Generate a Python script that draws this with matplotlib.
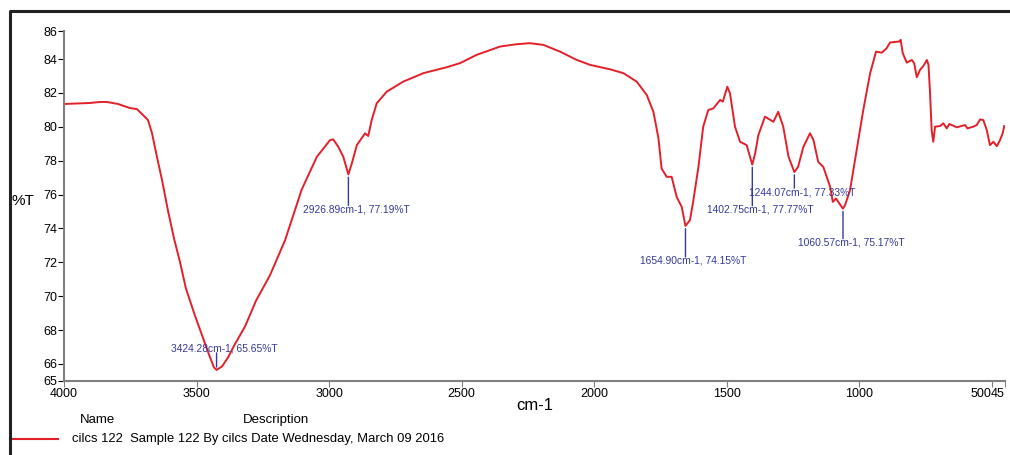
import matplotlib
matplotlib.use("Agg")
import matplotlib.pyplot as plt
from matplotlib.lines import Line2D

plt.rcParams["font.family"] = ["Liberation Sans", "DejaVu Sans"]

# spectrum (wavenumber cm-1, %T)
wavenumber = [
    4000, 3902, 3864, 3838, 3796, 3751, 3725, 3702, 3683, 3668, 3649, 3630,
    3608, 3585, 3562, 3540, 3506, 3479, 3453, 3434, 3424, 3404, 3381, 3358,
    3317, 3275, 3223, 3166, 3103, 3046, 2996, 2984, 2965, 2946, 2927, 2914,
    2895, 2864, 2852, 2839, 2820, 2782, 2720, 2644, 2556, 2506, 2443, 2355,
    2292, 2242, 2191, 2128, 2065, 2015, 1940, 1889, 1839, 1801, 1776, 1757,
    1745, 1726, 1707, 1701, 1688, 1669, 1655, 1638, 1625, 1606, 1588, 1569,
    1550, 1524, 1514, 1497, 1487, 1468, 1449, 1424, 1403, 1392, 1380, 1355,
    1323, 1305, 1286, 1266, 1244, 1230, 1210, 1185, 1172, 1154, 1135, 1109,
    1099, 1087, 1061, 1053, 1034, 1009, 984, 958, 936, 914, 896, 883, 848,
    843, 835, 820, 801, 792, 782, 770, 757, 744, 738, 732, 726, 720, 713,
    694, 682, 669, 659, 631, 600, 591, 569, 556, 543, 531, 518, 506, 493,
    480, 468, 458, 452,
]
transmittance = [
    81.35, 81.41, 81.47, 81.47, 81.35, 81.11, 81.05, 80.70, 80.40, 79.63,
    78.21, 76.85, 75.08, 73.42, 72.00, 70.46, 68.86, 67.68, 66.56, 65.79,
    65.65, 65.85, 66.38, 67.09, 68.21, 69.75, 71.23, 73.30, 76.30, 78.23,
    79.22, 79.26, 78.82, 78.23, 77.19, 77.84, 78.92, 79.62, 79.46, 80.40,
    81.39, 82.08, 82.67, 83.17, 83.52, 83.76, 84.25, 84.74, 84.88, 84.94,
    84.84, 84.44, 83.95, 83.66, 83.40, 83.17, 82.67, 81.88, 80.89, 79.34,
    77.54, 77.05, 77.05, 76.66, 75.86, 75.27, 74.15, 74.49, 75.67, 77.64,
    80.01, 80.99, 81.09, 81.59, 81.49, 82.37, 81.98, 80.01, 79.12, 78.92,
    77.77, 78.43, 79.51, 80.60, 80.30, 80.89, 80.01, 78.23, 77.33, 77.64,
    78.82, 79.62, 79.22, 77.93, 77.64, 76.46, 75.57, 75.77, 75.17, 75.37,
    76.26, 78.63, 81.00, 83.17, 84.44, 84.38, 84.64, 84.98, 85.04, 85.14,
    84.35, 83.79, 83.95, 83.76, 82.93, 83.36, 83.60, 83.95, 83.66, 81.98,
    79.81, 79.12, 80.01, 80.05, 80.21, 79.91, 80.17, 79.97, 80.11, 79.91,
    80.01, 80.11, 80.44, 80.40, 79.81, 78.92, 79.12, 78.86, 79.22, 79.62,
    80.05,
]

# labelled peaks
peak_wn = [3424.28, 2926.89, 1654.90, 1402.75, 1244.07, 1060.57]
peak_T = [65.65, 77.19, 74.15, 77.77, 77.33, 75.17]
peak_line_px = [17, -31, -31, -41, -16, -30]  # tick length, + = above

x_ticks = [4000, 3500, 3000, 2500, 2000, 1500, 1000, 500, 450]
x_labels = ["4000", "3500", "3000", "2500", "2000", "1500", "1000", "500", "45"]
y_top = 85.66
y_ticks = [65, 66, 68, 70, 72, 74, 76, 78, 80, 82, 84, y_top]
y_labels = ["65", "66", "68", "70", "72", "74", "76", "78", "80", "82", "84", "86"]

RED = "#e3202a"
NAVY = "#34399a"
GRAY = "#808080"

fig = plt.figure(figsize=(10.1, 4.55), dpi=100)
ax = fig.add_axes([64 / 1010, 1 - 380.9 / 455, 940.8 / 1010, 349.9 / 455])

ax.plot(wavenumber, transmittance, color=RED, linewidth=1.4)
ax.set_xlim(4000, 450)
ax.set_ylim(65, y_top)

ax.set_xticks(x_ticks)
ax.set_xticklabels(x_labels)
ax.set_yticks(y_ticks)
ax.set_yticklabels(y_labels)
ax.tick_params(axis="both", labelsize=9, length=4, width=0.8, pad=1)
ax.tick_params(axis="x", color=GRAY)
# the last two labels sit crowded against the right edge, as in the printout
for lab in ax.get_xticklabels()[-2:]:
    lab.set_horizontalalignment("right")

for side in ["top", "right"]:
    ax.spines[side].set_visible(False)
for side in ["left", "bottom"]:
    ax.spines[side].set_color(GRAY)
    ax.spines[side].set_linewidth(1.5)

# peak markers
for wn, t, L in zip(peak_wn, peak_T, peak_line_px):
    sign = 1 if L > 0 else -1
    ax.annotate("", xy=(wn, t), xytext=(0, L), textcoords="offset pixels",
                arrowprops=dict(arrowstyle="-", color=NAVY, lw=1.0,
                                shrinkA=0, shrinkB=2))
    ax.annotate("%.2fcm-1, %.2f%%T" % (wn, t), xy=(wn, t),
                xytext=(8, L + sign * 4), textcoords="offset pixels",
                ha="center", va="center", fontsize=7.4, color=NAVY)

fig.text(12 / 1010, 1 - 201 / 455, "%T", fontsize=11, va="center", ha="left")
fig.text(535 / 1010, 1 - 406 / 455, "cm-1", fontsize=12, va="center", ha="center")

# legend table below the plot
fig.text(80 / 1010, 1 - 420 / 455, "Name", fontsize=9.5, va="center")
fig.text(243 / 1010, 1 - 420 / 455, "Description", fontsize=9.5, va="center")
fig.add_artist(Line2D([10 / 1010, 58 / 1010], [1 - 439 / 455, 1 - 439 / 455],
                      color=RED, linewidth=1.5, transform=fig.transFigure))
fig.text(72 / 1010, 1 - 439 / 455,
         "cilcs 122  Sample 122 By cilcs Date Wednesday, March 09 2016",
         fontsize=9.4, va="center")

# page frame (left and top edges)
fig.add_artist(Line2D([10 / 1010, 10 / 1010, 1.0], [0.0, 1 - 11 / 455, 1 - 11 / 455],
                      color="#222222", linewidth=2.2, transform=fig.transFigure))

fig.savefig("out.png", dpi=100)
plt.close(fig)
